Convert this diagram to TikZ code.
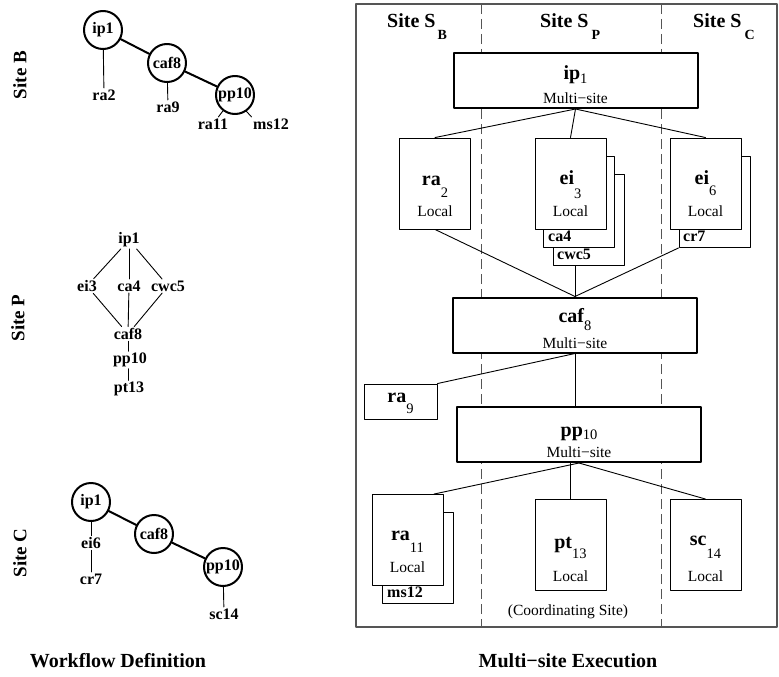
\documentclass[tikz,border=0pt]{standalone}
\usepackage{fontspec}
\setmainfont{Liberation Serif}
\definecolor{framegray}{HTML}{555555}
\newcommand{\fsz}[1]{\fontsize{#1}{#1}\selectfont}
\newcommand{\lowidx}[2]{\raisebox{-#1pt}{\fsz{14.5}\mdseries #2}}
\tikzset{
  every picture/.style={line join=round, line cap=round},
  sitelbl/.style={font=\fsz{19}\bfseries, rotate=90, inner sep=0pt},
  caption/.style={font=\fsz{20}\bfseries, anchor=base, inner sep=0pt},
  wcirc/.style={circle, draw, line width=2pt, minimum size=38pt, inner sep=0pt, font=\fsz{16}\bfseries},
  wtext/.style={inner sep=1.5pt, font=\fsz{16}\bfseries},
  wedge/.style={line width=2pt},
  tedge/.style={line width=0.9pt},
  frame/.style={draw=framegray, line width=1.2pt},
  sitesep/.style={draw=framegray, line width=1pt, line cap=butt, dash pattern=on 10pt off 5pt},
  hdr/.style={font=\fsz{20}\bfseries, anchor=base west, inner sep=0pt},
  taskbox/.style={draw, fill=white, line width=0.9pt, inner sep=0pt, minimum width=71pt, minimum height=91pt},
  mainbox/.style={draw, fill=white, line width=2pt, inner sep=0pt, minimum width=244pt, minimum height=55pt},
  tasklbl/.style={font=\fsz{20}\bfseries, anchor=base, inner sep=0pt},
  kindlbl/.style={font=\fsz{15.5}, anchor=base, inner sep=0pt},
  sublbl/.style={font=\fsz{16}\bfseries, anchor=base west, inner sep=0pt},
}

\begin{document}
\begin{tikzpicture}[x=1pt,y=-1pt]
\useasboundingbox (0,0) rectangle (779,677);
% workflow definition
\node[sitelbl] (siteB) at (20,75) {Site B};
\node[sitelbl] (siteP) at (18,318) {Site P};
\node[sitelbl] (siteC) at (20,553) {Site C};

\node[wcirc] (ipB) at (103,30) {ip1};
\node[wcirc] (cafB) at (167,63) {caf8};
\node[wcirc] (ppB) at (235,95) {pp10};
\node[wtext] (raB2) at (104,95) {ra2};
\node[wtext] (raB9) at (168,107) {ra9};
\node[wtext] (raB11) at (213,124) {ra11};
\node[wtext] (msB12) at (271,124) {ms12};
\draw[wedge] (ipB) -- (cafB);
\draw[wedge] (cafB) -- (ppB);
\draw[tedge] (ipB) -- (raB2);
\draw[tedge] (cafB) -- (raB9);
\draw[tedge] (ppB) -- (raB11);
\draw[tedge] (ppB.-55) -- (msB12.north west);

\node[wtext] (ipP) at (129,240) {ip1};
\node[wtext] (eiP3) at (87,286) {ei3};
\node[wtext] (caP4) at (129,286) {ca4};
\node[wtext] (cwcP5) at (168,286) {cwc5};
\node[wtext] (cafP) at (128,334) {caf8};
\node[wtext] (ppP) at (130,360) {pp10};
\node[wtext] (ptP13) at (129,389) {pt13};
\draw[tedge] (ipP) -- (eiP3);
\draw[tedge] (ipP) -- (caP4);
\draw[tedge] (ipP) -- (cwcP5);
\draw[tedge] (eiP3) -- (cafP);
\draw[tedge] (caP4) -- (cafP);
\draw[tedge] (cwcP5) -- (cafP);
\draw[tedge] (cafP.south) -- (cafP.south |- ppP.north);
\draw[tedge] (cafP.south |- ppP.south) -- (cafP.south |- ptP13.north);

\node[wcirc] (ipC) at (91,502) {ip1};
\node[wcirc] (cafC) at (154,534) {caf8};
\node[wcirc] (ppC) at (223,567) {pp10};
\node[wtext] (eiC6) at (91,543) {ei6};
\node[wtext] (crC7) at (91,579) {cr7};
\node[wtext] (scC14) at (224,614) {sc14};
\draw[wedge] (ipC) -- (cafC);
\draw[wedge] (cafC) -- (ppC);
\draw[tedge] (ipC) -- (eiC6);
\draw[tedge] (eiC6) -- (crC7);
\draw[tedge] (ppC) -- (scC14);

\node[caption] (wfdef) at (118,667) {Workflow Definition};

% multi-site execution
\draw[frame] (356,4) rectangle (777,627);
\draw[sitesep] (481,4) -- (481,627);
\draw[sitesep] (661,4) -- (661,627);
\node[hdr] (hdrB) at (387,28) {Site S\kern2pt\raisebox{-12pt}{\fsz{14}B}};
\node[hdr] (hdrP) at (540,28) {Site S\kern3pt\raisebox{-12pt}{\fsz{14}P}};
\node[hdr] (hdrC) at (693,28) {Site S\kern3pt\raisebox{-12pt}{\fsz{14}C}};

\node[taskbox] (cwcR5) at (588.5,220) {};
\node[taskbox] (caR4) at (579,202) {};
\node[taskbox] (eiR3) at (570.5,183.5) {};
\node[taskbox] (crR7) at (714.5,202) {};
\node[taskbox] (eiR6) at (705.5,183.5) {};
\node[taskbox] (raR2) at (435,183.5) {};
\node[taskbox, minimum width=73pt, minimum height=35pt] (raR9) at (400.5,401.5) {};
\node[taskbox] (msR12) at (417.5,558) {};
\node[taskbox] (raR11) at (407.5,540) {};
\node[taskbox] (ptR13) at (570.5,545) {};
\node[taskbox] (scR14) at (705.5,545) {};
\node[mainbox] (ipR) at (575.5,80.5) {};
\node[mainbox] (cafR) at (575,325) {};
\node[mainbox] (ppR) at (579,434.5) {};

\draw[tedge] (ipR.south) -- (raR2.north);
\draw[tedge] (ipR.south) -- (eiR3.north);
\draw[tedge] (ipR.south) -- (eiR6.north);
\draw[tedge] (raR2.south) -- (cafR.north);
\draw[tedge] (cafR.north) -- (cafR.north |- cwcR5.south);
\draw[tedge] (crR7.south west) -- (cafR.north);
\draw[tedge] (cafR.south) -- (raR9.north east);
\draw[tedge] (cafR.south) -- (cafR.south |- ppR.north);
\draw[tedge] (ppR.south) -- (raR11.60);
\draw[tedge] (ptR13.north) -- (ptR13.north |- ppR.south);
\draw[tedge] (ppR.south) -- (scR14.north);

\node[tasklbl] (ipRt) at (575.5,80) {ip\lowidx{3}{1}};
\node[kindlbl] (ipRk) at (575.5,103) {Multi−site};
\node[tasklbl] (cafRt) at (575,322) {caf\lowidx{8}{8}};
\node[kindlbl] (cafRk) at (575,348) {Multi−site};
\node[tasklbl] (ppRt) at (579,436) {pp\lowidx{3}{10}};
\node[kindlbl] (ppRk) at (579,457) {Multi−site};
\node[tasklbl] (raR2t) at (435,185) {ra\lowidx{12}{2}};
\node[kindlbl] (raR2k) at (435,216) {Local};
\node[tasklbl] (eiR3t) at (570.5,184) {ei\lowidx{14}{3}};
\node[kindlbl] (eiR3k) at (570.5,216) {Local};
\node[sublbl] (caR4t) at (548,241) {ca4};
\node[sublbl] (cwcR5t) at (557,259) {cwc5};
\node[tasklbl] (eiR6t) at (705.5,184) {ei\lowidx{11}{6}};
\node[kindlbl] (eiR6k) at (705.5,216) {Local};
\node[sublbl] (crR7t) at (683,241) {cr7};
\node[tasklbl] (raR9t) at (400.5,402) {ra\lowidx{11}{9}};
\node[tasklbl] (raR11t) at (407.5,540) {ra\lowidx{12}{11}};
\node[kindlbl] (raR11k) at (407.5,572) {Local};
\node[sublbl] (msR12t) at (387,597) {ms12};
\node[tasklbl] (ptR13t) at (570.5,548) {pt\lowidx{10}{13}};
\node[kindlbl] (ptR13k) at (570.5,581) {Local};
\node[tasklbl] (scR14t) at (705.5,545) {sc\lowidx{13}{14}};
\node[kindlbl] (scR14k) at (705.5,581) {Local};
\node[kindlbl] (coord) at (568,615) {(Coordinating Site)};

\node[caption] (msexec) at (568,667) {Multi−site Execution};
\end{tikzpicture}
\end{document}
